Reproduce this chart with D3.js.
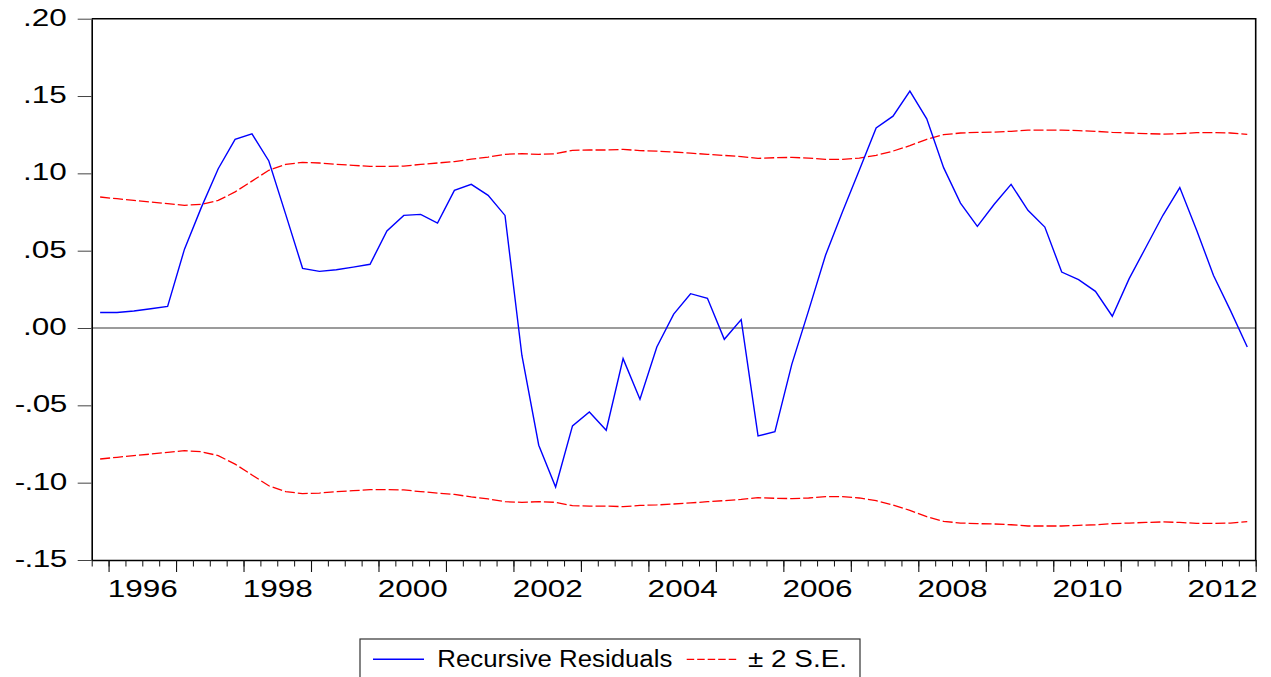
<!DOCTYPE html>
<html>
<head>
<meta charset="utf-8">
<script src="https://cdn.jsdelivr.net/npm/d3@7"></script>
<style>
  html, body { margin: 0; padding: 0; background: #fff; }
  svg { display: block; }
  text { font-family: "Liberation Sans", Arial, Helvetica, sans-serif; fill: #000; }
</style>
</head>
<body>
<svg id="chart" width="1271" height="677"></svg>
<script>
// Quarterly sample: 1995Q4 .. 2012Q4
const firstPeriod = { year: 1995, quarter: 4 };

// Recursive residuals, one per quarter
const residuals = [
  0.010, 0.010, 0.011, 0.0125, 0.014, 0.051, 0.078, 0.103, 0.122, 0.1255,
  0.108, 0.0735, 0.0386, 0.0366, 0.0377, 0.0394, 0.0412, 0.0627, 0.0728, 0.0735,
  0.0679, 0.089, 0.0929, 0.0858, 0.0728, -0.0176, -0.0758, -0.1028, -0.0633, -0.0543,
  -0.0661, -0.0198, -0.0461, -0.0123, 0.009, 0.0222, 0.0192, -0.0073, 0.0054, -0.0698,
  -0.067, -0.0235, 0.0114, 0.047, 0.075, 0.102, 0.1293, 0.137, 0.1532, 0.1353,
  0.1037, 0.0808, 0.0657, 0.080, 0.0929, 0.0761, 0.0653, 0.0362, 0.0313, 0.0237,
  0.0076, 0.0319, 0.0524, 0.0729, 0.0908, 0.0632, 0.034, 0.0114, -0.0123
];

// Two standard errors band (drawn as + and -)
const twoSE = [
  0.0847, 0.0836, 0.0825, 0.0815, 0.0804, 0.0793, 0.080, 0.0825, 0.088, 0.095,
  0.102, 0.1058, 0.1071, 0.1067, 0.1058, 0.1052, 0.1045, 0.1045, 0.1047, 0.1058,
  0.1067, 0.1076, 0.1092, 0.1105, 0.1123, 0.1127, 0.1123, 0.1127, 0.1149, 0.1151,
  0.1151, 0.1155, 0.1147, 0.1144, 0.1138, 0.1131, 0.1123, 0.1116, 0.1108, 0.1097,
  0.1101, 0.1103, 0.1099, 0.109, 0.109, 0.1099, 0.1116, 0.1144, 0.1179, 0.122,
  0.125, 0.1261, 0.1265, 0.1267, 0.1272, 0.128, 0.128, 0.128, 0.1276, 0.1272,
  0.1265, 0.1261, 0.1257, 0.1254, 0.1257, 0.1263, 0.1263, 0.1261, 0.1252
];

const yTicks = [-0.15, -0.10, -0.05, 0.00, 0.05, 0.10, 0.15, 0.20];
const yearLabels = [1996, 1998, 2000, 2002, 2004, 2006, 2008, 2010, 2012];
const legendLabels = ["Recursive Residuals", "\u00B1 2 S.E."];

// Time index: start of each quarter as fractional year
const t0 = firstPeriod.year + (firstPeriod.quarter - 1) / 4;
const nQ = residuals.length;
const t1 = t0 + nQ / 4;
const midT = i => t0 + i / 4 + 0.125;

const plot = { left: 91.7, right: 1255.7, top: 18.7, bottom: 560 };
const svg = d3.select("#chart");

const x = d3.scaleLinear().domain([t0, t1]).range([plot.left, plot.right]);
const y = d3.scaleLinear().domain([-0.15, 0.20]).range([plot.bottom, plot.top]);

const FONT = 23.5;
const TICK_SX = 1.34;

// zero reference line
svg.append("line")
  .attr("x1", plot.left).attr("x2", plot.right)
  .attr("y1", y(0)).attr("y2", y(0))
  .attr("stroke", "#7a7a7a").attr("stroke-width", 1.4);

// ±2 S.E. bands
const lineGen = d3.line().x((d, i) => x(midT(i))).y(d => y(d));
svg.append("path").datum(twoSE)
  .attr("d", lineGen).attr("fill", "none")
  .attr("stroke", "#ff0000").attr("stroke-width", 1.3)
  .attr("stroke-dasharray", "10,3");
svg.append("path").datum(twoSE.map(v => -v))
  .attr("d", lineGen).attr("fill", "none")
  .attr("stroke", "#ff0000").attr("stroke-width", 1.3)
  .attr("stroke-dasharray", "10,3");

// residual line
svg.append("path").datum(residuals)
  .attr("d", lineGen).attr("fill", "none")
  .attr("stroke", "#0000ff").attr("stroke-width", 1.4)
  .attr("stroke-linejoin", "miter");

// frame (top and right)
svg.append("path")
  .attr("d", `M${plot.left},${plot.top}H${plot.right}V${plot.bottom}`)
  .attr("fill", "none").attr("stroke", "#000").attr("stroke-width", 1.6);

// left axis, labels like ".20" and "-.15"
const fmt = v => d3.format(".2f")(v).replace("\u2212", "-").replace("0.", ".");
const yAxis = svg.append("g")
  .attr("transform", `translate(${plot.left},0)`)
  .call(d3.axisLeft(y).tickValues(yTicks).tickSize(14).tickSizeOuter(0).tickFormat(fmt));
yAxis.select(".domain").attr("stroke", "#000").attr("stroke-width", 1.6);
yAxis.selectAll(".tick line").attr("stroke", "#444").attr("stroke-width", 1);
yAxis.selectAll(".tick text")
  .attr("font-size", FONT).attr("font-family", null)
  .attr("x", -25 / TICK_SX).attr("y", 6.5).attr("dy", null)
  .attr("transform", `scale(${TICK_SX},1)`)
  .attr("letter-spacing", function () {
    // negative labels sit slightly tighter
    return d3.select(this).text().startsWith("-") ? -0.4 : null;
  });

// bottom axis: quarter ticks, year ticks, then labels
const quarterTicks = d3.range(0, nQ + 1).map(i => t0 + i / 4);
const yearTicks = quarterTicks.filter(t => Math.abs(t - Math.round(t)) < 1e-9);

const xMinor = svg.append("g")
  .attr("transform", `translate(0,${plot.bottom})`)
  .call(d3.axisBottom(x).tickValues(quarterTicks).tickSize(6.5).tickSizeOuter(0).tickFormat(""));
xMinor.select(".domain").attr("stroke", "#000").attr("stroke-width", 1.6);
xMinor.selectAll(".tick line").attr("stroke", "#111").attr("stroke-width", 1);

const xMajor = svg.append("g")
  .attr("transform", `translate(0,${plot.bottom})`)
  .call(d3.axisBottom(x).tickValues(yearTicks).tickSize(12).tickSizeOuter(0).tickFormat(""));
xMajor.select(".domain").remove();
xMajor.selectAll(".tick line").attr("stroke", "#111").attr("stroke-width", 1.1);

const xLabels = svg.append("g")
  .attr("transform", `translate(0,${plot.bottom})`)
  .call(d3.axisBottom(x).tickValues(yearLabels.map(v => v + 0.5)).tickSize(0)
    .tickFormat(v => String(Math.round(v - 0.5))));
xLabels.select(".domain").remove();
xLabels.selectAll(".tick text")
  .attr("font-size", FONT).attr("font-family", null)
  .attr("y", 36.9).attr("dy", null)
  .attr("transform", `scale(${TICK_SX},1)`);

// legend
const lg = svg.append("g");
lg.append("rect")
  .attr("x", 360).attr("y", 639).attr("width", 500).attr("height", 60)
  .attr("fill", "#fff").attr("stroke", "#333").attr("stroke-width", 1.2);
lg.append("line")
  .attr("x1", 373).attr("x2", 424).attr("y1", 659.3).attr("y2", 659.3)
  .attr("stroke", "#0000ff").attr("stroke-width", 1.4);
lg.append("text")
  .attr("x", 437.3).attr("y", 666.8).attr("font-size", FONT)
  .attr("textLength", 235).attr("lengthAdjust", "spacingAndGlyphs")
  .text(legendLabels[0]);
lg.append("line")
  .attr("x1", 686.7).attr("x2", 738.3).attr("y1", 659.3).attr("y2", 659.3)
  .attr("stroke", "#ff0000").attr("stroke-width", 1.3)
  .attr("stroke-dasharray", "7.5,3");
lg.append("text")
  .attr("x", 748).attr("y", 666.8).attr("font-size", FONT)
  .attr("textLength", 99).attr("lengthAdjust", "spacingAndGlyphs")
  .text(legendLabels[1]);
</script>
</body>
</html>
